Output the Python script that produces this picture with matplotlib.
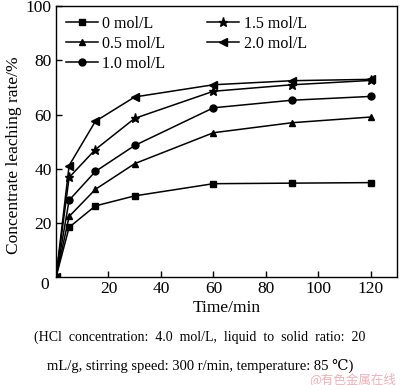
import matplotlib
matplotlib.use('Agg')
import matplotlib.pyplot as plt

plt.rcParams['font.family'] = ['Liberation Serif', 'DejaVu Serif']
plt.rcParams['mathtext.fontset'] = 'stix'

# data
time_min = [0, 5, 15, 30, 60, 90, 120]
labels = ['0 mol/L', '0.5 mol/L', '1.0 mol/L', '1.5 mol/L', '2.0 mol/L']
rate_0 = [0, 18.4, 26.3, 30.0, 34.5, 34.7, 34.9]
rate_05 = [0, 22.4, 32.4, 41.9, 53.3, 57.0, 59.1]
rate_10 = [0, 28.4, 39.0, 48.6, 62.5, 65.3, 66.7]
rate_15 = [0, 36.8, 47.1, 58.6, 68.6, 71.0, 72.6]
rate_20 = [0, 41.2, 57.5, 66.5, 71.0, 72.5, 73.0]
series = [rate_0, rate_05, rate_10, rate_15, rate_20]
markers = ['s', '^', 'o', '*', '<']
msizes = [4.2, 5, 5, 6.5, 5.5]

fig = plt.figure(figsize=(4.0, 3.85), dpi=100)
ax = fig.add_axes([0.14, 0.28, 0.8525, 0.704])

for ys, lab, m, ms in zip(series, labels, markers, msizes):
    ax.plot(time_min, ys, color='black', lw=1.1, marker=m, ms=ms, label=lab)

ax.set_xlim(0, 130)
ax.set_ylim(0, 100)
ax.set_xticks([20, 40, 60, 80, 100, 120])
ax.set_yticks([20, 40, 60, 80, 100])
ax.tick_params(direction='in', length=4, width=1, labelsize=12.5, pad=3)
for s in ax.spines.values():
    s.set_linewidth(1)
ax.text(-0.02, -0.03, '0', transform=ax.transAxes, ha='right', va='center', fontsize=12.5)

ax.set_xlabel('Time/min', fontsize=12.5, labelpad=2)
ax.set_ylabel('Concentrate leaching rate/%', fontsize=12.5)
ax.yaxis.set_label_coords(-0.1, 0.45)

ax.legend(ncol=2, loc='upper left', frameon=False, fontsize=11.5, handlelength=2.0,
          labelspacing=0.25, columnspacing=2.6, handletextpad=0.3,
          borderaxespad=0.3, borderpad=0.3)

fig.text(0.5, 0.125, '(HCl  concentration:  4.0  mol/L,  liquid  to  solid  ratio:  20',
         ha='center', va='center', fontsize=10)
fig.text(0.5, 0.05, 'mL/g, stirring speed: 300 r/min, temperature: 85 \u2103)',
         ha='center', va='center', fontsize=10.5)
fig.text(0.99, 0.016, '@有色金属在线', ha='right', va='center', fontsize=9,
         color='#e07080', alpha=0.55, family=['Noto Sans CJK SC', 'DejaVu Sans'])

fig.savefig('out.png', dpi=100, facecolor='w')
